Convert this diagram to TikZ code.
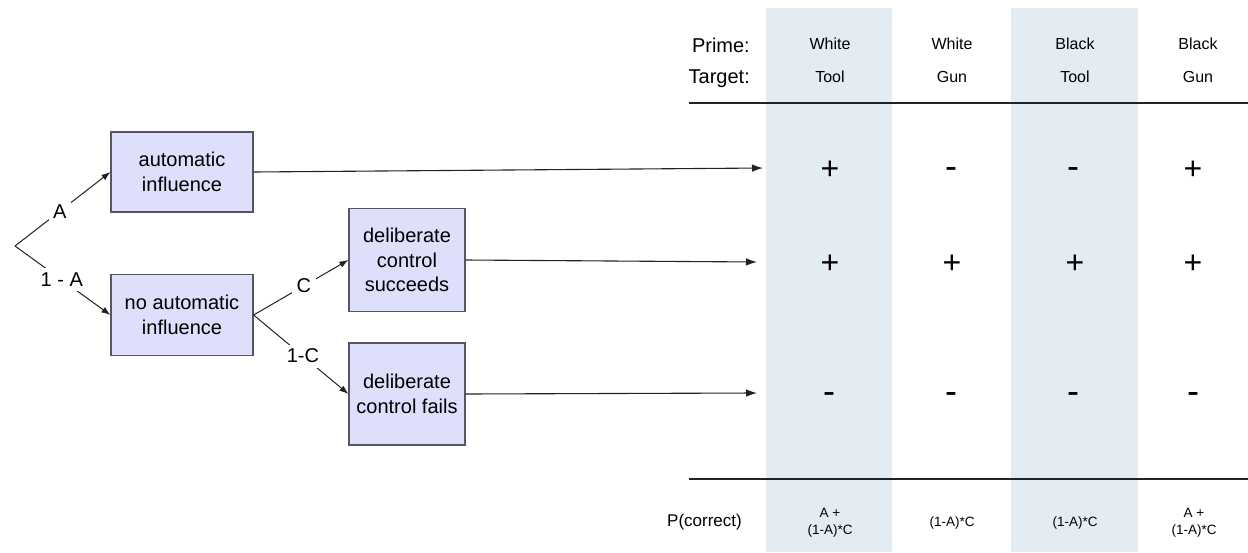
\documentclass[tikz,border=0pt]{standalone}
\usepackage{fontspec}
\setmainfont{Liberation Sans}
\usetikzlibrary{arrows.meta}
\definecolor{boxfill}{HTML}{DDDFFB}
\definecolor{boxdraw}{HTML}{555566}
\definecolor{colshade}{HTML}{E3EBF3}
\definecolor{ink}{HTML}{222222}
\begin{document}
\begin{tikzpicture}[x=1pt,y=-1pt,
  box/.style={draw=boxdraw, fill=boxfill, line width=1.2pt, align=center,
    font=\fontsize{20}{24.5}\selectfont, inner sep=0pt},
  link/.style={draw=ink, line width=1pt, -{Latex[length=9pt,width=6.5pt]}},
  longlink/.style={draw=ink, line width=1.1pt, -{Latex[length=11pt,width=7.5pt]}},
  lab/.style={fill=white, font=\fontsize{20}{24}\selectfont, inner sep=4.5pt},
  hdr/.style={font=\fontsize{16}{19}\selectfont},
  rowlab/.style={font=\fontsize{20}{24}\selectfont, anchor=east, inner sep=0pt},
  plus/.style={font=\fontsize{32}{34}\selectfont, inner sep=0pt, anchor=base, yshift=-11pt},
  minus/.style={font=\fontsize{36}{38}\selectfont, inner sep=0pt, anchor=base, yshift=-10.5pt},
  prob/.style={font=\fontsize{13.5}{17}\selectfont, align=center, inner sep=0pt},
  rule/.style={draw=ink, line width=1.3pt}]
\useasboundingbox[fill=white] (0,0) rectangle (1248,552);

% shaded columns
\fill[colshade] (766,8) rectangle (892,552);
\fill[colshade] (1011,8) rectangle (1138,552);

% tree boxes
\node[box, minimum width=142pt, minimum height=80pt] (auto) at (182,172) {automatic\\influence};
\node[box, minimum width=142pt, minimum height=81pt] (noauto) at (182,315) {no automatic\\influence};
\node[box, minimum width=116pt, minimum height=103pt] (succ) at (407,260) {deliberate\\control\\succeeds};
\node[box, minimum width=116pt, minimum height=102pt] (fail) at (407,394) {deliberate\\control fails};

% tree connectors
\coordinate (root) at (15,246);
\draw[link] (root) -- node[lab, pos=0.47] {A} (auto.west);
\draw[link] (root) -- node[lab, pos=0.49] {1 - A} (noauto.west);
\draw[link] (noauto.east) -- node[lab, pos=0.53] {C} (succ.west);
\draw[link] (noauto.east) -- node[lab, pos=0.52] {1-C} (fail.west);

% arrows to table
\coordinate (r1) at (763,168);
\coordinate (r2) at (757,262);
\coordinate (r3) at (757,393);
\draw[longlink] (auto.east) -- (r1);
\draw[longlink] (succ.east) -- (r2);
\draw[longlink] (fail.east) -- (r3);

% header
\node[rowlab] (prime) at (750,45) {Prime:};
\node[rowlab] (target) at (750,79) {Target:};
\node[hdr] (p1) at (830,44) {White};
\node[hdr] (t1) at (830,77) {Tool};
\node[hdr] (p2) at (952,44) {White};
\node[hdr] (t2) at (952,77) {Gun};
\node[hdr] (p3) at (1075,44) {Black};
\node[hdr] (t3) at (1075,77) {Tool};
\node[hdr] (p4) at (1198,44) {Black};
\node[hdr] (t4) at (1198,77) {Gun};

\coordinate (hl1) at (689,103);
\coordinate (hl2) at (1248,103);
\draw[rule] (hl1) -- (hl2);

% signs
\node[plus]  (s11) at (830,168) {+};
\node[minus] (s12) at (951,168) {-};
\node[minus] (s13) at (1073,168) {-};
\node[plus]  (s14) at (1193,168) {+};
\node[plus]  (s21) at (830,262) {+};
\node[plus]  (s22) at (952,262) {+};
\node[plus]  (s23) at (1075,262) {+};
\node[plus]  (s24) at (1193,262) {+};
\node[minus] (s31) at (829,393) {-};
\node[minus] (s32) at (951,393) {-};
\node[minus] (s33) at (1073,393) {-};
\node[minus] (s34) at (1193,393) {-};

\coordinate (bl1) at (689,479);
\coordinate (bl2) at (1248,479);
\draw[rule] (bl1) -- (bl2);

% bottom row
\node[rowlab, font=\fontsize{17}{20}\selectfont] (pc) at (742,522) {P(correct)};
\node[prob] (q1) at (830,523) {A +\\(1-A)*C};
\node[prob] (q2) at (952,523) {(1-A)*C};
\node[prob] (q3) at (1075,523) {(1-A)*C};
\node[prob] (q4) at (1194,523) {A +\\(1-A)*C};
\end{tikzpicture}
\end{document}
